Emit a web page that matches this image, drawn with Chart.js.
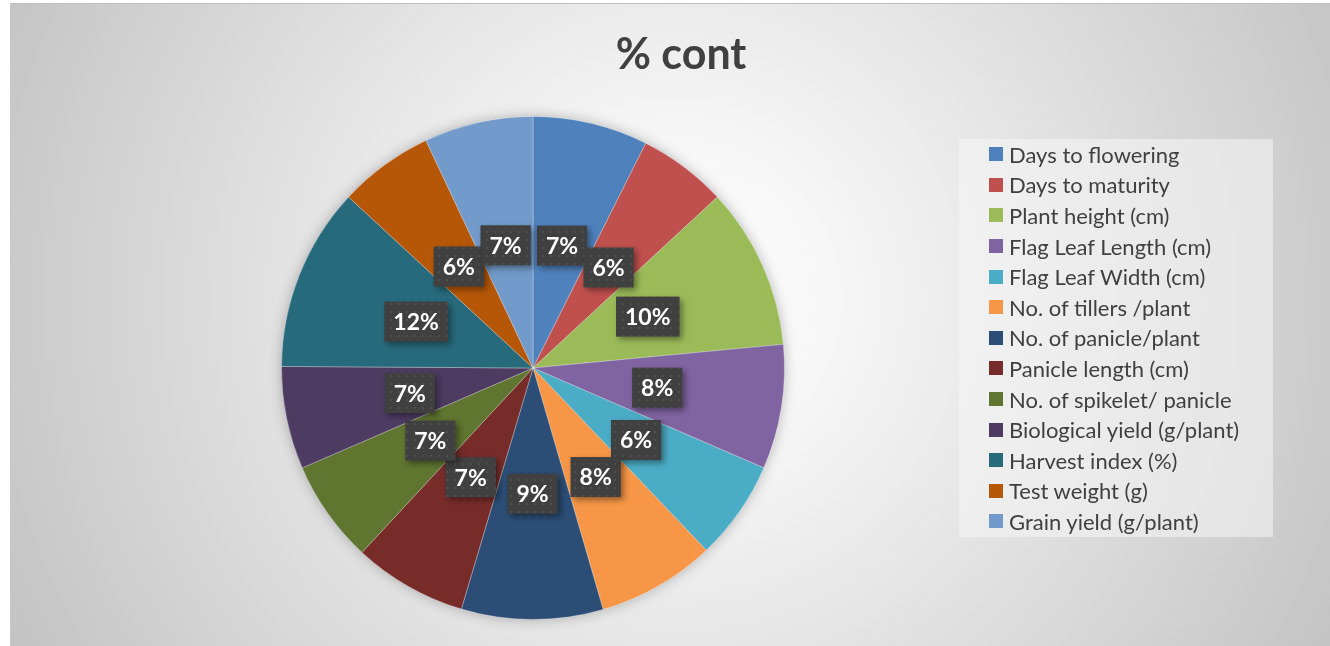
<!DOCTYPE html>
<html lang="en">
<head>
  <meta charset="UTF-8" />
  <title>% cont</title>
  <script src="https://cdn.jsdelivr.net/npm/chart.js"></script>
  <style>
    body { margin: 0; background: #fff; font-family: Lato, 'Open Sans', sans-serif; }
    .frame {
      position: absolute; left: 10px; top: 3px; width: 1320px; height: 643px;
      border-top: 1px solid #bdbdbd; border-left: 1px solid #c9c9c9; box-sizing: border-box;
      background: radial-gradient(circle farthest-corner at 50.5% 46%, #ffffff 0%, #f7f7f7 20%, #e4e4e4 50%, #c3c3c3 100%);
      overflow: hidden;
    }
    #chart { position: absolute; left: 0; top: 0; }
    .title {
      position: absolute; left: 0; width: 1340px; top: 24px; text-align: center;
      font-weight: bold; font-size: 43px; color: #404040; line-height: 50px;
    }
    .legend {
      position: absolute; left: 948px; top: 135px; width: 314px; height: 398px;
      background: rgba(246,246,246,0.55);
    }
    .legend-item { display: flex; align-items: center; height: 30.6px; font-size: 22px; color: #404040; white-space: nowrap; }
    .legend-color { width: 14px; height: 14px; margin-left: 30px; margin-right: 6px; flex: none; }
  </style>
</head>
<body>
  <div class="frame">
    <canvas id="chart" width="1320" height="643"></canvas>
    <div class="title">% cont</div>
    <div class="legend" id="legend"></div>
  </div>

  <script>
    const categories = [
      "Days to flowering", "Days to maturity", "Plant height (cm)", "Flag Leaf Length (cm)",
      "Flag Leaf Width (cm)", "No. of tillers /plant", "No. of panicle/plant", "Panicle length (cm)",
      "No. of spikelet/ panicle", "Biological yield (g/plant)", "Harvest index (%)",
      "Test weight (g)", "Grain yield (g/plant)"
    ];
    const values = [7.4, 5.7, 10.4, 8.0, 6.4, 7.6, 9.1, 7.3, 6.6, 6.6, 11.8, 6.1, 7.0];
    const colors = [
      "#4F81BD", "#C0504D", "#9BBB59", "#8064A2", "#4BACC6", "#F79646",
      "#2C4D75", "#772C2A", "#5F7530", "#4D3B62", "#276A7C", "#B65708", "#729ACA"
    ];

    // html legend
    const legend = document.getElementById("legend");
    categories.forEach((c, i) => {
      legend.innerHTML += `<div class="legend-item"><div class="legend-color" style="background:${colors[i]}"></div>${c}</div>`;
    });

    // dotted fill for the label boxes
    function dotPattern(ctx) {
      const p = document.createElement("canvas");
      p.width = 8; p.height = 8;
      const pc = p.getContext("2d");
      pc.fillStyle = "#404040";
      pc.fillRect(0, 0, 8, 8);
      pc.fillStyle = "#4f4f4f";
      pc.fillRect(3, 3, 2, 2);
      return ctx.createPattern(p, "repeat");
    }

    const pieShadow = {
      id: "pieShadow",
      beforeDatasetsDraw(chart) {
        const arc = chart.getDatasetMeta(0).data[0];
        if (!arc) return;
        const ctx = chart.ctx;
        ctx.save();
        ctx.shadowColor = "rgba(0,0,0,0.3)";
        ctx.shadowBlur = 14;
        ctx.fillStyle = "#888";
        ctx.beginPath();
        ctx.arc(arc.x, arc.y, arc.outerRadius - 1, 0, Math.PI * 2);
        ctx.fill();
        ctx.restore();
      }
    };

    const boxLabels = {
      id: "boxLabels",
      afterDatasetsDraw(chart) {
        const ctx = chart.ctx;
        const total = values.reduce((a, b) => a + b, 0);
        const fill = dotPattern(ctx);
        ctx.save();
        ctx.font = "bold 23px Lato, sans-serif";
        ctx.textAlign = "center";
        ctx.textBaseline = "middle";
        chart.getDatasetMeta(0).data.forEach((arc, i) => {
          const pos = arc.tooltipPosition();
          const txt = Math.round(values[i] / total * 100) + "%";
          const w = ctx.measureText(txt).width + 18;
          const h = 40;
          ctx.save();
          ctx.shadowColor = "rgba(0,0,0,0.4)";
          ctx.shadowBlur = 6;
          ctx.shadowOffsetX = 3;
          ctx.shadowOffsetY = 3;
          ctx.fillStyle = fill;
          ctx.fillRect(pos.x - w / 2, pos.y - h / 2, w, h);
          ctx.restore();
          ctx.fillStyle = "#ffffff";
          ctx.fillText(txt, pos.x, pos.y + 1);
        });
        ctx.restore();
      }
    };

    new Chart(document.getElementById("chart"), {
      type: "pie",
      data: {
        labels: categories,
        datasets: [{
          data: values,
          backgroundColor: colors,
          borderColor: "rgba(255,255,255,0.3)",
          borderWidth: 1
        }]
      },
      options: {
        responsive: false,
        animation: false,
        layout: { padding: { top: 112, bottom: 27, left: 270, right: 546 } },
        plugins: {
          legend: { display: false },
          title: { display: false },
          tooltip: { enabled: false }
        }
      },
      plugins: [pieShadow, boxLabels]
    });
  </script>
</body>
</html>
